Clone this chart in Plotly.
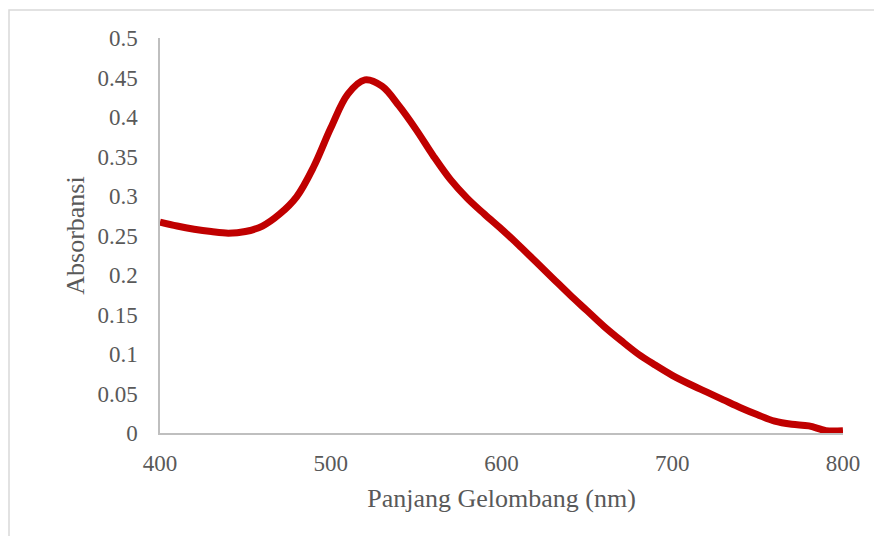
import plotly.graph_objects as go

wavelength = [400, 410, 420, 430, 440, 450, 460, 470, 480, 490, 500, 510, 520, 530, 540,
              550, 560, 570, 580, 590, 600, 610, 620, 630, 640, 650, 660, 670, 680, 690,
              700, 710, 720, 730, 740, 750, 760, 770, 780, 790, 800]
absorbance = [0.267, 0.262, 0.258, 0.255, 0.253, 0.255, 0.262, 0.277, 0.299, 0.337, 0.386,
              0.429, 0.447, 0.439, 0.414, 0.384, 0.351, 0.321, 0.297, 0.277, 0.258, 0.238,
              0.217, 0.196, 0.175, 0.155, 0.135, 0.117, 0.100, 0.086, 0.073, 0.062, 0.052,
              0.042, 0.032, 0.023, 0.015, 0.011, 0.009, 0.003, 0.003]

x_ticks = [400, 500, 600, 700, 800]
y_ticks = [0, 0.05, 0.1, 0.15, 0.2, 0.25, 0.3, 0.35, 0.4, 0.45, 0.5]
y_tick_labels = ["0", "0.05", "0.1", "0.15", "0.2", "0.25", "0.3", "0.35", "0.4", "0.45", "0.5"]

x_title = "Panjang Gelombang (nm)"
y_title = "Absorbansi"

font_family = "Liberation Serif, Times New Roman, serif"
text_color = "#595959"

fig = go.Figure()
fig.add_trace(go.Scatter(
    x=wavelength, y=absorbance, mode="lines",
    line=dict(color="#C00000", width=7, shape="spline", smoothing=1.0),
    showlegend=False, hoverinfo="x+y",
))

fig.update_layout(
    width=874, height=528,
    margin=dict(l=152, r=39, t=30, b=103),
    paper_bgcolor="white", plot_bgcolor="white",
    font=dict(family=font_family, color=text_color, size=23),
    xaxis=dict(
        range=[400, 800], tickvals=x_ticks, ticktext=[str(v) for v in x_ticks],
        showgrid=False, zeroline=False, showline=True, linecolor="#bfbfbf", linewidth=1.5,
        ticks="outside", ticklen=9, tickcolor="rgba(0,0,0,0)",
        tickfont=dict(size=23, family=font_family, color=text_color),
        title=dict(text=x_title, font=dict(size=26, family=font_family, color=text_color), standoff=13),
    ),
    yaxis=dict(
        range=[0, 0.5], tickvals=y_ticks, ticktext=y_tick_labels,
        showgrid=False, zeroline=False, showline=True, linecolor="#bfbfbf", linewidth=1.5,
        ticks="outside", ticklen=16, tickcolor="rgba(0,0,0,0)",
        tickfont=dict(size=23, family=font_family, color=text_color),
        title=dict(text=y_title, font=dict(size=26, family=font_family, color=text_color), standoff=5),
    ),
    shapes=[dict(
        type="rect", xref="paper", yref="paper",
        x0=(9 - 160) / 683, x1=1.2, y0=-0.4, y1=(433 - 10) / 395,
        line=dict(color="#d9d9d9", width=1.5), fillcolor="rgba(0,0,0,0)", layer="below",
    )],
)

fig.write_html("out.html")
